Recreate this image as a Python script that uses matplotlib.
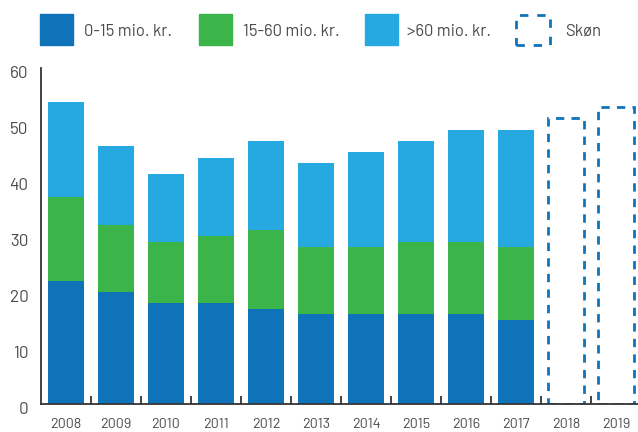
import matplotlib.pyplot as plt
import matplotlib.transforms as mtransforms
from matplotlib.patches import Rectangle

# DATA
years = ['2008', '2009', '2010', '2011', '2012', '2013', '2014', '2015',
         '2016', '2017', '2018', '2019']
small = [22, 20, 18, 18, 17, 16, 16, 16, 16, 15]      # 0-15 mio. kr.
medium = [15, 12, 11, 12, 14, 12, 12, 13, 13, 13]     # 15-60 mio. kr.
large = [17, 14, 12, 14, 16, 15, 17, 18, 20, 21]      # >60 mio. kr.
estimate = [51, 53]                                   # Skøn 2018-2019
legend_labels = ['0-15 mio. kr.', '15-60 mio. kr.', '>60 mio. kr.', 'Skøn']

# COLORS
c_small = '#0f73ba'
c_medium = '#3bb44a'
c_large = '#26a9e0'
c_text = '#4a4a4a'

# FONT
plt.rcParams['font.family'] = ['Barlow', 'DejaVu Sans']

W, H = 638, 432
fig = plt.figure(figsize=(W / 100, H / 100), dpi=100)
ax = fig.add_axes([41 / W, 28 / H, 600 / W, 336 / H])

n = len(small)
x = list(range(n))
bottom2 = [a + b for a, b in zip(small, medium)]
ax.bar(x, small, width=0.72, color=c_small, zorder=2)
ax.bar(x, medium, width=0.72, bottom=small, color=c_medium, zorder=2)
ax.bar(x, large, width=0.72, bottom=bottom2, color=c_large, zorder=2)
ax.bar(range(n, len(years)), estimate, width=0.72, fill=False,
       edgecolor=c_small, linewidth=2, linestyle=(0, (3, 2.6)), zorder=2)

ax.set_xlim(-0.5, len(years) - 0.5)
ax.set_ylim(0, 60)
ax.set_yticks(range(0, 61, 10))
ax.set_xticks(range(len(years)))
ax.set_xticklabels(years)
ax.set_xticks([i + 0.5 for i in range(len(years) - 1)], minor=True)
ax.set_yticks([60], minor=True)

for s in ['top', 'right']:
    ax.spines[s].set_visible(False)
for s in ['left', 'bottom']:
    ax.spines[s].set_color('#333333')
    ax.spines[s].set_linewidth(1.3)

ax.tick_params(axis='x', which='major', length=0, pad=10, labelsize=10.3,
               labelcolor=c_text)
ax.tick_params(axis='y', which='major', length=0, pad=9, labelsize=12.3,
               labelcolor=c_text)
ax.tick_params(axis='x', which='minor', direction='in', length=6,
               width=1.3, color='#333333')
ax.tick_params(axis='y', which='minor', direction='in', length=11,
               width=1.3, color='#333333')

# y labels sit a little below their value in the reference
shift = mtransforms.ScaledTranslation(0, -4 / 100, fig.dpi_scale_trans)
for lbl in ax.get_yticklabels():
    lbl.set_transform(lbl.get_transform() + shift)

# LEGEND (drawn by hand across the top)
legend_items = [(40, 84, c_small), (199, 243, c_medium), (365, 407, c_large)]
for (px, tx, col), lab in zip(legend_items, legend_labels):
    fig.add_artist(Rectangle((px / W, 1 - 45 / H), 33 / W, 31 / H,
                             transform=fig.transFigure, color=col))
    fig.text(tx / W, 1 - 31 / H, lab, fontsize=12, color=c_text,
             va='center', ha='left')
fig.add_artist(Rectangle((516 / W, 1 - 45 / H), 34 / W, 30 / H,
                         transform=fig.transFigure, fill=False,
                         edgecolor=c_small, linewidth=2,
                         linestyle=(0, (3, 3.2))))
fig.text(565 / W, 1 - 31 / H, legend_labels[3], fontsize=12,
         color=c_text, va='center', ha='left')

fig.savefig('out.png', dpi=100)
